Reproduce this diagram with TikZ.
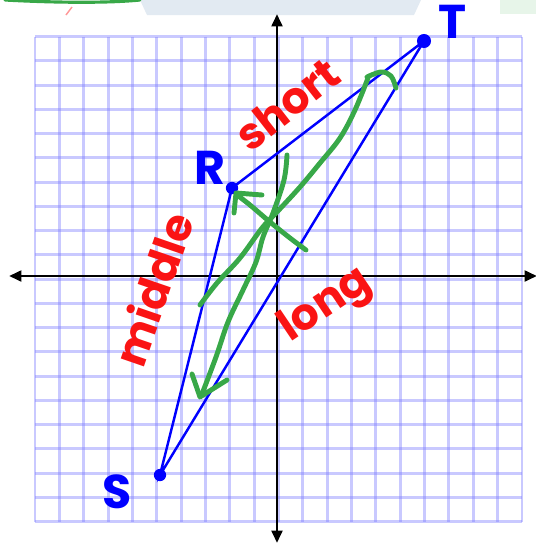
\documentclass[tikz,border=0pt]{standalone}
\usepackage{fontspec}
\setmainfont{Poppins}
\usetikzlibrary{arrows.meta}
\definecolor{pen}{RGB}{56,168,72}
\definecolor{gridblue}{RGB}{120,120,255}
\definecolor{inkred}{RGB}{250,20,20}
\definecolor{bgtop}{RGB}{226,234,242}
\begin{document}
\begin{tikzpicture}[x=0.02cm,y=-0.02cm,
  gridline/.style={draw=gridblue, opacity=0.4, line width=1.7pt},
  axisline/.style={line width=1.7pt, {Triangle[length=7pt,width=6pt]}-{Triangle[length=7pt,width=6pt]}},
  tri/.style={draw=blue, line width=1.4pt},
  dot/.style={circle, fill=blue, inner sep=0pt, minimum size=7pt},
  vlabel/.style={text=blue, font=\bfseries\fontsize{27}{27}\selectfont},
  side/.style={text=inkred, font=\bfseries\fontsize{25}{25}\selectfont},
  greenpen/.style={draw=pen, line width=2.8pt, line cap=round, line join=round},
]
\useasboundingbox (0,0) rectangle (536,545);
% top background remnants
\fill[bgtop] (147,15) -- (140,0) -- (421,0) -- (414,15) -- cycle;
\fill[pen!12] (500,0) rectangle (536,14);
\draw[pen, line width=1.8pt, line cap=round] (5,0) .. controls (60,3) and (110,3) .. (140,0);
\draw[red!40, line width=0.8pt] (72,7) -- (66,15);
% grid
\foreach \i in {0,...,20} {
  \draw[gridline] ({35+24.35*\i},36.7) -- ({35+24.35*\i},521.7);
  \draw[gridline] (35,{36.7+24.25*\i}) -- (522,{36.7+24.25*\i});
}
% axes
\coordinate (ytop) at (277,14);
\coordinate (ybot) at (277,543);
\coordinate (xl) at (9,276);
\coordinate (xr) at (537,276);
\draw[axisline] (ybot) -- (ytop);
\draw[axisline] (xl) -- (xr);
% triangle
\node[dot, minimum size=8pt] (T) at (424,41) {};
\node[dot] (R) at (232,188) {};
\node[dot] (S) at (160,475) {};
\draw[tri] (T.center) -- (R.center) -- (S.center) -- cycle;
% vertex labels
\node[vlabel] (Tl) at (453,22) {T};
\node[vlabel] (Rl) at (210,168) {R};
\node[vlabel] (Sl) at (117,492) {S};
% side labels
\node[side, rotate=38] (short) at (287,104) {short};
\node[side, rotate=71] (middle) at (153,289) {middle};
\node[side, rotate=34] (long) at (326,306) {long};
% green arrows
\draw[greenpen] plot[smooth, tension=0.6] coordinates {(200,305) (217,283) (240,258) (262,228) (277,212) (300,187) (320,163) (340,138) (355,110) (368,78)};
\draw[greenpen] plot[smooth, tension=0.6] coordinates {(367,77) (381,72) (391,76) (396,88)};
\draw[greenpen] plot[smooth, tension=0.6] coordinates {(287,155) (284,180) (273,213) (263,237) (256,262) (243,290) (228,322) (216,357) (202,394)};
\draw[greenpen] (192,374) -- (200,397) -- (227,380);
\draw[greenpen] plot[smooth, tension=0.6] coordinates {(306,250) (290,238) (270,222) (250,205) (237,195)};
\draw[greenpen] (262,195) -- (236,193) -- (234,213);
\end{tikzpicture}
\end{document}
